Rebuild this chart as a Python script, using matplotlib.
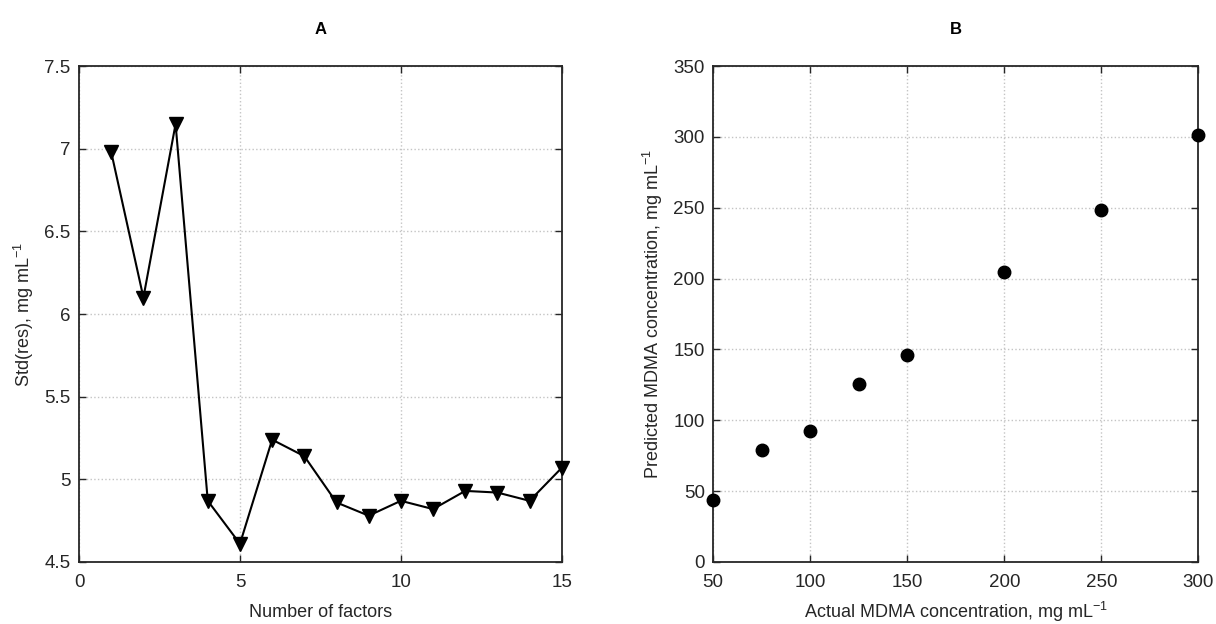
import matplotlib
matplotlib.use("Agg")
import matplotlib.pyplot as plt

plt.rcParams['font.family'] = ['Liberation Sans', 'DejaVu Sans']
plt.rcParams['mathtext.fontset'] = 'custom'
plt.rcParams['mathtext.rm'] = 'Liberation Sans'
plt.rcParams['mathtext.it'] = 'Liberation Sans'
plt.rcParams['mathtext.default'] = 'rm'

# Panel A: residual standard deviation vs. number of factors
n_factors = [1, 2, 3, 4, 5, 6, 7, 8, 9, 10, 11, 12, 13, 14, 15]
std_res = [6.98, 6.10, 7.15, 4.87, 4.61, 5.24, 5.14, 4.86, 4.78, 4.87,
           4.82, 4.93, 4.92, 4.87, 5.07]

# Panel B: predicted vs. actual MDMA concentration
actual_conc = [50, 75, 100, 125, 150, 200, 250, 300]
predicted_conc = [43.6, 79.3, 92.5, 125.8, 145.8, 204.7, 248.8, 301.2]

fig = plt.figure(figsize=(12.16, 6.24), dpi=100)
axA = fig.add_axes([0.065, 0.0994, 0.397, 0.7946])
axB = fig.add_axes([0.5865, 0.0994, 0.399, 0.7946])

grid_kw = dict(color='#c4c4c4', linestyle=':', linewidth=1.0)
tick_fs = 13.5
label_fs = 13
text_color = '#262626'

for ax in (axA, axB):
    for s in ax.spines.values():
        s.set_color(text_color)
        s.set_linewidth(1.3)
    ax.tick_params(direction='in', length=5, width=1.0, labelsize=tick_fs,
                   colors=text_color, top=True, right=True)
    ax.tick_params(axis='x', pad=9)
    ax.tick_params(axis='y', pad=6)
    ax.grid(True, **grid_kw)
    ax.set_axisbelow(True)

axA.plot(n_factors, std_res, color='black', linewidth=1.5, marker='v',
         markersize=10, markerfacecolor='black', markeredgecolor='black',
         clip_on=False, zorder=3)
axA.set_xlim(0, 15)
axA.set_ylim(4.5, 7.5)
axA.set_xticks([0, 5, 10, 15])
axA.set_yticks([4.5, 5, 5.5, 6, 6.5, 7, 7.5])
axA.set_yticklabels(['4.5', '5', '5.5', '6', '6.5', '7', '7.5'])
axA.set_xlabel('Number of factors', fontsize=label_fs, color=text_color,
               labelpad=9)
axA.set_ylabel('Std(res), mg mL$^{-1}$', fontsize=label_fs, color=text_color,
               labelpad=6)
axA.set_title('A', fontsize=12, fontweight='bold', pad=23)

axB.plot(actual_conc, predicted_conc, linestyle='none', marker='o',
         markersize=9, color='black', clip_on=False, zorder=3)
axB.set_xlim(50, 300)
axB.set_ylim(0, 350)
axB.set_xticks([50, 100, 150, 200, 250, 300])
axB.set_yticks([0, 50, 100, 150, 200, 250, 300, 350])
axB.set_xlabel('Actual MDMA concentration, mg mL$^{-1}$', fontsize=label_fs,
               color=text_color, labelpad=6)
axB.set_ylabel('Predicted MDMA concentration, mg mL$^{-1}$', fontsize=label_fs,
               color=text_color, labelpad=6)
axB.set_title('B', fontsize=12, fontweight='bold', pad=23)

fig.savefig('out.png', dpi=100)
